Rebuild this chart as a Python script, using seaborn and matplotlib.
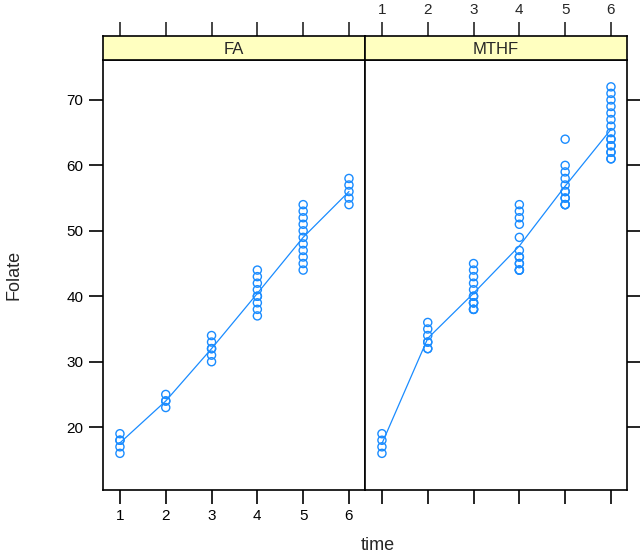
import numpy as np
import pandas as pd
import seaborn as sns
import matplotlib.pyplot as plt
from matplotlib.patches import Rectangle

# values
fa_time = [1, 1, 1, 1, 1,
           2, 2, 2, 2,
           3, 3, 3, 3, 3, 3,
           4, 4, 4, 4, 4, 4, 4, 4, 4,
           5, 5, 5, 5, 5, 5, 5, 5, 5, 5, 5,
           6, 6, 6, 6, 6]
fa_folate = [16, 17, 18, 19, 18,
             23, 24, 25, 24,
             30, 31, 32, 33, 34, 32,
             37, 38, 39, 40, 41, 42, 43, 44, 40,
             44, 45, 46, 47, 48, 49, 50, 51, 52, 53, 54,
             54, 55, 56, 57, 58]

mthf_time = [1, 1, 1, 1,
             2, 2, 2, 2, 2, 2, 2,
             3, 3, 3, 3, 3, 3, 3, 3, 3, 3, 3, 3, 3,
             4, 4, 4, 4, 4, 4, 4, 4, 4, 4, 4, 4, 4,
             5, 5, 5, 5, 5, 5, 5, 5, 5, 5, 5, 5,
             6, 6, 6, 6, 6, 6, 6, 6, 6, 6, 6, 6, 6, 6, 6, 6]
mthf_folate = [16, 17, 18, 19,
               32, 32, 33, 33, 34, 35, 36,
               38, 38, 38, 39, 39, 39, 40, 40, 41, 42, 43, 44, 45,
               44, 44, 44, 45, 45, 46, 46, 47, 49, 51, 52, 53, 54,
               54, 54, 54, 55, 55, 56, 56, 57, 58, 59, 60, 64,
               61, 61, 62, 62, 63, 63, 64, 64, 65, 66, 67, 68, 69, 70, 71, 72]

groups = ["FA", "MTHF"]
x_ticks = [1, 2, 3, 4, 5, 6]
y_ticks = [20, 30, 40, 50, 60, 70]

df = pd.concat([
    pd.DataFrame({"time": fa_time, "Folate": fa_folate, "group": "FA"}),
    pd.DataFrame({"time": mthf_time, "Folate": mthf_folate, "group": "MTHF"}),
])

sns.set_style("white")
plt.rcParams["font.family"] = ["Liberation Sans", "DejaVu Sans"]

blue = "#1a8cff"
W, H = 640, 555
fig = plt.figure(figsize=(W / 100, H / 100), dpi=100)

def fx(px):
    return px / W

def fy(py):
    return 1 - py / H

panel_top, panel_bot = 60, 490
strip_top = 36
lefts = [103, 365]
width = 262
xlim = (0.63, 6.35)
ylim = (10.4, 76.1)

for i, g in enumerate(groups):
    ax = fig.add_axes([fx(lefts[i]), fy(panel_bot), width / W, (panel_bot - panel_top) / H])
    sub = df[df["group"] == g]
    sns.lineplot(data=sub, x="time", y="Folate", errorbar=None, color=blue, lw=0.9, ax=ax)
    sns.scatterplot(data=sub, x="time", y="Folate", marker="o", s=34,
                    facecolor="none", edgecolor=blue, linewidth=1.0, ax=ax)
    ax.set_xlim(*xlim)
    ax.set_ylim(*ylim)
    ax.set_xlabel("")
    ax.set_ylabel("")
    ax.set_xticks(x_ticks)
    ax.set_yticks(y_ticks)
    for s in ax.spines.values():
        s.set_color("black")
        s.set_linewidth(1.2)
    ax.tick_params(direction="out", length=10, width=1.2, colors="black",
                   labelsize=11, pad=4)
    if i == 0:
        ax.tick_params(axis="x", bottom=True, top=False, labelbottom=True)
        ax.tick_params(axis="y", left=True, right=False, labelleft=True)
    else:
        ax.tick_params(axis="x", bottom=True, labelbottom=False, top=False)
        ax.tick_params(axis="y", left=False, labelleft=False, right=True, labelright=False)

    # strip
    sax = fig.add_axes([fx(lefts[i]), fy(panel_top), width / W, (panel_top - strip_top) / H])
    sax.set_xlim(*xlim)
    sax.set_ylim(0, 1)
    sax.add_patch(Rectangle((0, 0), 1, 1, transform=sax.transAxes, facecolor="#ffffc0",
                            edgecolor="none"))
    sax.text(0.5, 0.45, g, transform=sax.transAxes, ha="center", va="center", fontsize=12)
    for s in sax.spines.values():
        s.set_color("black")
        s.set_linewidth(1.2)
    sax.set_yticks([])
    sax.set_xticks(x_ticks)
    sax.tick_params(axis="x", direction="out", length=10, width=1.2, bottom=False,
                    labelbottom=False, top=True, labeltop=(i == 1), labelsize=11, pad=4)

fig.text(fx(378), fy(545), "time", ha="center", va="center", fontsize=13)
fig.text(fx(14), fy(275), "Folate", ha="center", va="center", rotation=90, fontsize=13)

fig.savefig("out.png", dpi=100)
